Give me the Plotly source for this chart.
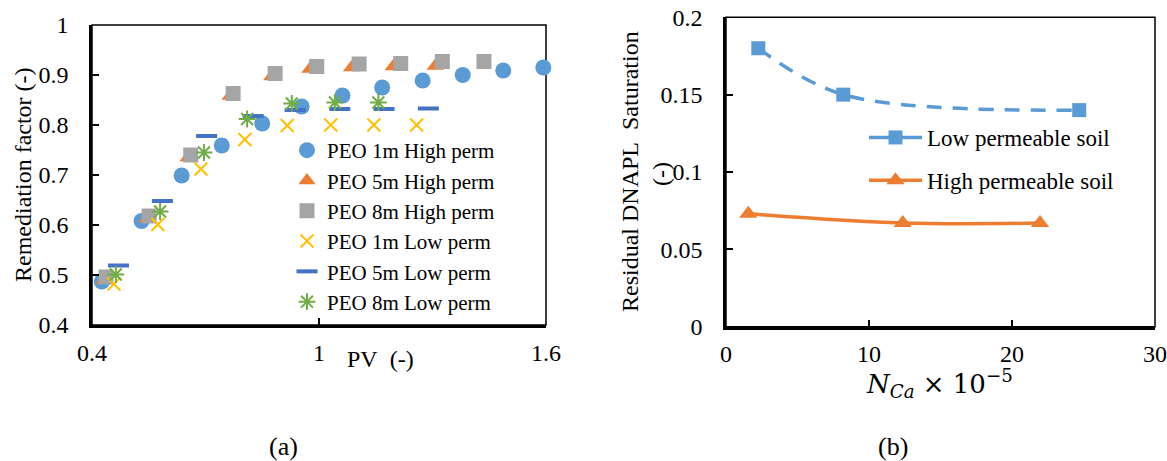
import plotly.graph_objects as go

W, H = 1167, 461
OFF = 0  # body margin removed by post_script below
FONT = "Liberation Serif"

# ---------------- Panel (a) data ----------------
pv_1m_high = [0.426, 0.531, 0.637, 0.743, 0.850, 0.954, 1.062, 1.167, 1.274, 1.380, 1.487, 1.593]
rf_1m_high = [0.487, 0.608, 0.699, 0.759, 0.803, 0.837, 0.859, 0.875, 0.889, 0.900, 0.909, 0.915]
pv_5m_high = [0.432, 0.545, 0.654, 0.765, 0.875, 0.976, 1.086, 1.196, 1.307]
rf_5m_high = [0.490, 0.613, 0.735, 0.858, 0.897, 0.912, 0.915, 0.917, 0.918]
pv_8m_high = [0.437, 0.551, 0.661, 0.773, 0.884, 0.994, 1.106, 1.216, 1.326, 1.436]
rf_8m_high = [0.496, 0.618, 0.740, 0.863, 0.903, 0.917, 0.922, 0.923, 0.927, 0.927]
pv_1m_low = [0.458, 0.574, 0.688, 0.804, 0.916, 1.031, 1.145, 1.258]
rf_1m_low = [0.482, 0.601, 0.712, 0.771, 0.799, 0.800, 0.800, 0.800]
pv_5m_low = [0.470, 0.586, 0.703, 0.826, 0.937, 1.055, 1.172, 1.289]
rf_5m_low = [0.519, 0.648, 0.778, 0.818, 0.830, 0.832, 0.832, 0.833]
pv_8m_low = [0.463, 0.580, 0.696, 0.810, 0.928, 1.042, 1.157]
rf_8m_low = [0.501, 0.627, 0.745, 0.812, 0.843, 0.845, 0.845]

# ---------------- Panel (b) data ----------------
nca_low = [2.26, 8.2, 24.7]
sat_low = [0.180, 0.150, 0.140]
nca_high = [1.56, 12.36, 21.96]
sat_high = [0.073, 0.067, 0.067]

ticks_a_x = [0.4, 1.0, 1.6]
ticks_a_y = [0.4, 0.5, 0.6, 0.7, 0.8, 0.9, 1.0]
ticks_b_x = [0, 10, 20, 30]
ticks_b_y = [0, 0.05, 0.1, 0.15, 0.2]

BLUE, ORANGE, GRAY, GOLD, DBLUE, GREEN = "#5B9BD5", "#ED7D31", "#A5A5A5", "#FFC000", "#4472C4", "#70AD47"

FW, FH = W - OFF, H - OFF

def px_x(p):
    return (p - OFF) / FW

def px_y(p):
    return 1 - (p - OFF) / FH

fig = go.Figure()

def sc(x, y, name, symbol, color, size, lw=0, lcolor=None):
    fig.add_trace(go.Scatter(
        x=x, y=y, mode="markers", name=name, cliponaxis=False,
        marker=dict(symbol=symbol, size=size, color=color,
                    line=dict(width=lw, color=lcolor or color)),
        xaxis="x", yaxis="y", legend="legend"))

sc(pv_1m_high, rf_1m_high, "PEO 1m High perm", "circle", BLUE, 16)
sc(pv_5m_high, rf_5m_high, "PEO 5m High perm", "triangle-up", ORANGE, 15)
sc(pv_8m_high, rf_8m_high, "PEO 8m High perm", "square", GRAY, 15)
sc(pv_1m_low, rf_1m_low, "PEO 1m Low perm", "x-thin", GOLD, 13, 2)
sc(pv_5m_low, rf_5m_low, "PEO 5m Low perm", "line-ew", DBLUE, 15, 4)
sc(pv_8m_low, rf_8m_low, "PEO 8m Low perm", "asterisk", GREEN, 14, 2)

# Panel (b) traces
fig.add_trace(go.Scatter(
    x=nca_low, y=sat_low, mode="lines+markers", line_shape="spline", showlegend=False,
    line=dict(color=BLUE, width=3.5, dash="15px,11px"), cliponaxis=False,
    marker=dict(symbol="square", size=14, color=BLUE), xaxis="x2", yaxis="y2"))
fig.add_trace(go.Scatter(
    x=nca_high, y=sat_high, mode="lines+markers", line_shape="spline", showlegend=False,
    line=dict(color=ORANGE, width=3.5), cliponaxis=False,
    marker=dict(symbol="triangle-up", size=16, color=ORANGE), xaxis="x2", yaxis="y2"))
# legend entries for panel (b)
fig.add_trace(go.Scatter(
    x=[None], y=[None], mode="lines+markers", name="Low permeable soil",
    line=dict(color=BLUE, width=3.5), marker=dict(symbol="square", size=14, color=BLUE),
    xaxis="x2", yaxis="y2", legend="legend2", legendgroup="low"))
fig.add_trace(go.Scatter(
    x=[None], y=[None], mode="lines+markers", name="High permeable soil",
    line=dict(color=ORANGE, width=3.5), marker=dict(symbol="triangle-up", size=16, color=ORANGE),
    xaxis="x2", yaxis="y2", legend="legend2", legendgroup="high"))

axis_common = dict(showline=True, linecolor="black", linewidth=2.5, mirror=False,
                   ticks="inside", ticklen=7, tickwidth=2, tickcolor="black",
                   showgrid=False, zeroline=False, automargin=False,
                   ticklabeloverflow="allow",
                   tickfont=dict(family=FONT, size=24, color="black"))
xcommon = dict(axis_common, ticklabelstandoff=4)
ycommon = dict(axis_common, ticklabelstandoff=16)

def ann(text, x, y, size=24, angle=0, xanchor="center", family=FONT):
    return dict(text=text, x=px_x(x), y=px_y(y), xref="paper", yref="paper",
                xanchor=xanchor, yanchor="middle", textangle=angle, showarrow=False,
                font=dict(family=family, size=size, color="black"))

fig.update_layout(
    width=FW, height=FH,
    margin=dict(l=0, r=0, t=0, b=0, autoexpand=False),
    paper_bgcolor="white", plot_bgcolor="rgba(0,0,0,0)",
    font=dict(family=FONT, size=24, color="black"),
    xaxis=dict(domain=[px_x(92), px_x(546)], range=[0.4, 1.6], tickmode="array",
               tickvals=ticks_a_x, ticktext=["0.4", "1", "1.6"], anchor="y", **xcommon),
    yaxis=dict(domain=[px_y(325), px_y(25)], range=[0.4, 1.0], tickmode="array",
               tickvals=ticks_a_y, ticktext=[f"{v:g}" for v in ticks_a_y], anchor="x", **ycommon),
    xaxis2=dict(domain=[px_x(726), px_x(1155)], range=[0, 30], tickmode="array",
                tickvals=ticks_b_x, ticktext=[f"{v:g}" for v in ticks_b_x], anchor="y2", **xcommon),
    yaxis2=dict(domain=[px_y(326.7), px_y(17.3)], range=[0, 0.2], tickmode="array",
                tickvals=ticks_b_y, ticktext=[f"{v:g}" for v in ticks_b_y], anchor="x2", **ycommon),
    legend=dict(x=px_x(287), y=px_y(130), xanchor="left", yanchor="top",
                bgcolor="rgba(0,0,0,0)", font=dict(family=FONT, size=21),
                itemwidth=30, tracegroupgap=0),
    legend2=dict(x=px_x(864), y=px_y(116), xanchor="left", yanchor="top",
                 bgcolor="rgba(0,0,0,0)", font=dict(family=FONT, size=23),
                 itemwidth=53, tracegroupgap=10),
    shapes=[
        dict(type="rect", xref="x domain", yref="y domain", x0=0, x1=1, y0=0, y1=1,
             line=dict(color="black", width=1.5), layer="below"),
        dict(type="rect", xref="x2 domain", yref="y2 domain", x0=0, x1=1, y0=0, y1=1,
             line=dict(color="black", width=1.5), layer="below"),
    ],
    annotations=[
        ann("Remediation factor (-)", 23, 175, angle=-90),
        ann("PV\u00a0 (-)", 345, 359, xanchor="left"),
        ann("Residual DNAPL\u00a0 Saturation", 630, 172, angle=-90),
        ann("(-)", 661, 174, angle=-90),
        ann("<i>N</i><sub><i>Ca</i></sub> × 10<sup>−5</sup>", 939, 383, size=26, family="DejaVu Serif"),
        ann("(a)", 283, 446, size=26),
        ann("(b)", 893, 446, size=26),
    ],
)

fig.write_html("out.html", config={"displayModeBar": False},
               post_script="document.body.style.margin='0';document.body.style.overflow='hidden';")
